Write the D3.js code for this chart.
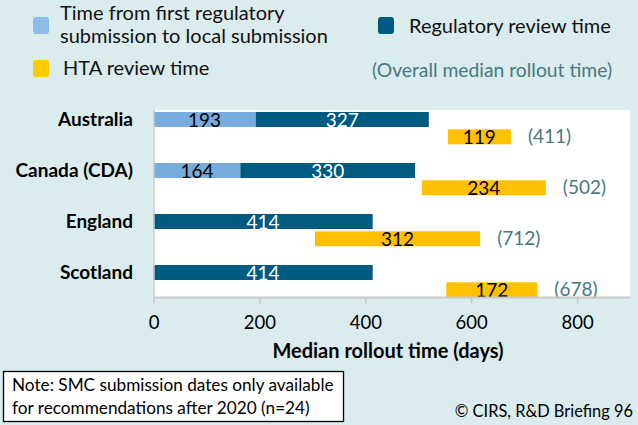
<!DOCTYPE html>
<html>
<head>
<meta charset="utf-8">
<script src="https://cdn.jsdelivr.net/npm/d3@7"></script>
<style>
  body { margin: 0; background: #daecee; }
  svg { display: block; font-family: Lato, "Open Sans", sans-serif; }
</style>
</head>
<body>
<svg width="638" height="425"></svg>
<script>
// Data
var countries = ["Australia", "Canada (CDA)", "England", "Scotland"];
var localSub = [193, 164, 0, 0];          // time from first regulatory to local submission
var regReview = [327, 330, 414, 414];     // regulatory review time
var htaStart = [556, 507, 305, 553];      // where the HTA bar begins (days)
var htaReview = [119, 234, 312, 172];     // HTA review time
var overall = [411, 502, 712, 678];       // overall median rollout time
var xTicks = [0, 200, 400, 600, 800];

var svg = d3.select("svg");
var colLight = "#77acdc", colDark = "#005b82", colYellow = "#ffc000", colTeal = "#47797f";

var x = d3.scaleLinear().domain([0, 900]).range([153.5, 630]);
var y = d3.scaleBand().domain(countries).range([112, 316]);

// plot area
svg.append("rect")
  .attr("x", 153).attr("y", 110)
  .attr("width", 477).attr("height", 187)
  .attr("fill", "#fff");

var rows = countries.map(function(c, i) {
  return { name: c, local: localSub[i], reg: regReview[i], start: htaStart[i], hta: htaReview[i], overall: overall[i] };
});

var g = svg.append("g");

// light blue segment
g.selectAll(".local")
  .data(rows.filter(function(d) { return d.local > 0; }))
  .enter().append("rect")
  .attr("x", function(d) { return x(0); })
  .attr("y", function(d) { return y(d.name); })
  .attr("width", function(d) { return x(d.local) - x(0); })
  .attr("height", 15)
  .attr("fill", colLight);

// regulatory review
g.selectAll(".reg")
  .data(rows).enter().append("rect")
  .attr("x", function(d) { return x(d.local); })
  .attr("y", function(d) { return y(d.name); })
  .attr("width", function(d) { return x(d.local + d.reg) - x(d.local); })
  .attr("height", 15)
  .attr("fill", colDark);

// HTA review
g.selectAll(".hta")
  .data(rows).enter().append("rect")
  .attr("x", function(d) { return x(d.start); })
  .attr("y", function(d) { return y(d.name) + 17.3; })
  .attr("width", function(d) { return x(d.start + d.hta) - x(d.start); })
  .attr("height", 15)
  .attr("fill", colYellow);

// value labels
g.selectAll(".lLocal")
  .data(rows.filter(function(d) { return d.local > 0; }))
  .enter().append("text")
  .attr("x", function(d) { return (x(0) + x(d.local)) / 2; })
  .attr("y", function(d) { return y(d.name) + 15; })
  .attr("text-anchor", "middle").attr("font-size", 19).attr("fill", "#000")
  .text(function(d) { return d.local; });

g.selectAll(".lReg")
  .data(rows).enter().append("text")
  .attr("x", function(d) { return (x(d.local) + x(d.local + d.reg)) / 2; })
  .attr("y", function(d) { return y(d.name) + 15; })
  .attr("text-anchor", "middle").attr("font-size", 19).attr("fill", "#fff")
  .text(function(d) { return d.reg; });

g.selectAll(".lHta")
  .data(rows).enter().append("text")
  .attr("x", function(d) { return (x(d.start) + x(d.start + d.hta)) / 2; })
  .attr("y", function(d) { return y(d.name) + 32.3; })
  .attr("text-anchor", "middle").attr("font-size", 19).attr("fill", "#000")
  .text(function(d) { return d.hta; });

g.selectAll(".lAll")
  .data(rows).enter().append("text")
  .attr("x", function(d) { return x(d.start + d.hta) + 17; })
  .attr("y", function(d) { return y(d.name) + 31; })
  .attr("font-size", 19).attr("fill", colTeal)
  .text(function(d) { return "(" + d.overall + ")"; });

// category labels
svg.selectAll(".cat")
  .data(countries).enter().append("text")
  .attr("x", 133)
  .attr("y", function(d) { return y(d) + 13.5; })
  .attr("text-anchor", "end").attr("font-size", 19).attr("font-weight", "bold")
  .text(function(d) { return d; });

// axes
svg.append("line")
  .attr("x1", 154).attr("x2", 154).attr("y1", 110).attr("y2", 298)
  .attr("stroke", "#c8c8c8").attr("stroke-width", 1.5);

var xAxis = svg.append("g")
  .attr("transform", "translate(0,297.5)")
  .call(d3.axisBottom(x).tickValues(xTicks).tickSize(6).tickPadding(12).tickSizeOuter(0));
xAxis.select(".domain").attr("stroke", "#c8c8c8").attr("stroke-width", 2)
  .attr("d", "M153," + 0 + "H630");
xAxis.selectAll(".tick line").attr("stroke", "#c8c8c8").attr("stroke-width", 1.5);
xAxis.selectAll(".tick text").attr("font-size", 18.5).attr("fill", "#000")
  .attr("font-family", "Lato, sans-serif");

svg.append("text")
  .attr("x", 388).attr("y", 358)
  .attr("text-anchor", "middle").attr("font-size", 20).attr("font-weight", "bold")
  .text("Median rollout time (days)");

// legend
var legend = [
  { color: "#8bbde9", x: 33, y: 17, lines: ["Time from first regulatory", "submission to local submission"], tx: 60, ty: 20 },
  { color: colDark, x: 378, y: 17, lines: ["Regulatory review time"], tx: 409, ty: 33 },
  { color: "#ffcb05", x: 33, y: 60, lines: ["HTA review time"], tx: 63, ty: 75 }
];
legend.forEach(function(l) {
  svg.append("rect")
    .attr("x", l.x).attr("y", l.y).attr("width", 16).attr("height", 17)
    .attr("rx", 3).attr("fill", l.color);
  l.lines.forEach(function(t, i) {
    svg.append("text")
      .attr("x", l.tx).attr("y", l.ty + i * 23)
      .attr("font-size", 20).attr("fill", "#111")
      .text(t);
  });
});
svg.append("text")
  .attr("x", 372).attr("y", 77)
  .attr("font-size", 19.3).attr("fill", colTeal)
  .text("(Overall median rollout time)");

// note box
svg.append("rect")
  .attr("x", 3.5).attr("y", 371.5).attr("width", 340).attr("height", 50)
  .attr("fill", "#fff").attr("stroke", "#000").attr("stroke-width", 1.3);
svg.append("text").attr("x", 12).attr("y", 391).attr("font-size", 17.2)
  .text("Note: SMC submission dates only available");
svg.append("text").attr("x", 12).attr("y", 413.5).attr("font-size", 17.2)
  .text("for recommendations after 2020 (n=24)");

svg.append("text")
  .attr("x", 633).attr("y", 417).attr("text-anchor", "end").attr("font-size", 16.4)
  .text("\u00a9 CIRS, R&D Briefing 96");
</script>
</body>
</html>
